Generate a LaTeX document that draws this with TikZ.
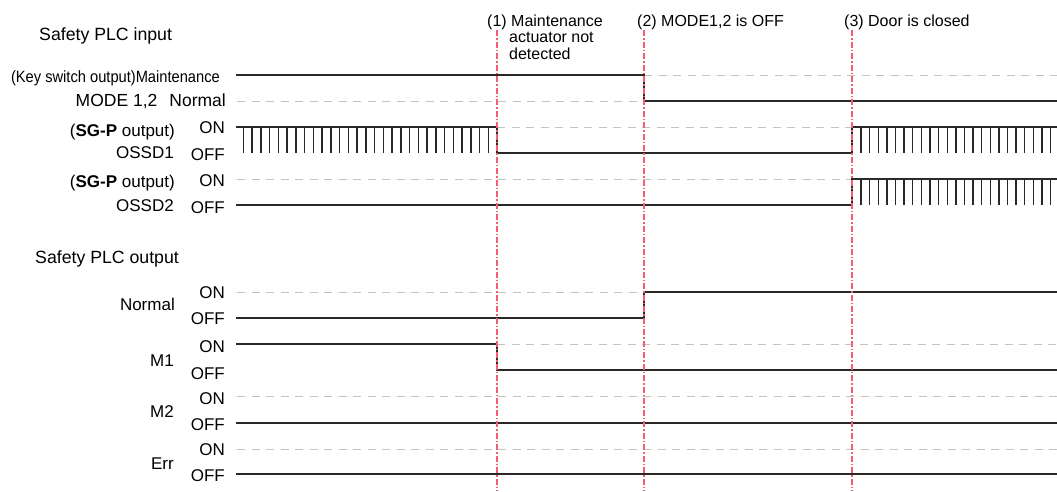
\documentclass[tikz,border=0pt]{standalone}
\usepackage{fontspec}
\setmainfont{Liberation Sans}
\definecolor{evtred}{RGB}{242,95,115}
\definecolor{sigcol}{RGB}{40,40,40}
\definecolor{refgray}{RGB}{195,195,195}
\begin{document}
\begin{tikzpicture}[x=1pt,y=-1pt,
  sig/.style={line width=1.5pt, draw=sigcol},
  pulse/.style={line width=1.4pt, draw=sigcol},
  ref/.style={line width=1pt, draw=refgray, dash pattern=on 8pt off 6.5pt},
  evt/.style={line width=1.3pt, draw=evtred, dash pattern=on 6pt off 2pt on 1.5pt off 2pt},
  lbl/.style={inner sep=0pt, anchor=base east, font=\fontsize{17}{20}\selectfont},
  head/.style={inner sep=0pt, anchor=base west, font=\fontsize{17.7}{21}\selectfont},
  toplbl/.style={inner sep=0pt, anchor=base west, font=\fontsize{16}{19}\selectfont}]
\useasboundingbox (0,0) rectangle (1057,491);

% headings
\node[head] (hin) at (39,40) {Safety PLC input};
\node[head] (hout) at (35,263) {Safety PLC output};

% event labels
\node[toplbl] (e1a) at (487,26) {(1) Maintenance};
\node[toplbl] (e1b) at (509,42.7) {actuator not};
\node[toplbl] (e1c) at (509,59.3) {detected};
\node[toplbl] (e2) at (637,26) {(2) MODE1,2 is OFF};
\node[toplbl] (e3) at (844,26) {(3) Door is closed};

% input labels
\node[lbl, font=\fontsize{16.3}{19}\selectfont] (keysw) at (220,82) {\scalebox{0.9}[1]{(Key switch output)Maintenance}};
\node[lbl, font=\fontsize{17.5}{20}\selectfont] (mode) at (226,106) {MODE 1,2\hspace{12pt}Normal};
\node[lbl] (sg1) at (175,136.7) {(\textbf{SG-P} output)};
\node[lbl] (ossd1) at (174,158.3) {OSSD1};
\node[lbl] (on1) at (225,133.3) {ON};
\node[lbl] (off1) at (225,160) {OFF};
\node[lbl] (sg2) at (175,187) {(\textbf{SG-P} output)};
\node[lbl] (ossd2) at (174,211.7) {OSSD2};
\node[lbl] (on2) at (225,186.7) {ON};
\node[lbl] (off2) at (225,213) {OFF};

% output labels
\node[lbl] (nrm) at (175,310) {Normal};
\node[lbl] (on3) at (225,298) {ON};
\node[lbl] (off3) at (225,324) {OFF};
\node[lbl] (m1) at (174,366) {M1};
\node[lbl] (on4) at (225,352) {ON};
\node[lbl] (off4) at (225,379) {OFF};
\node[lbl] (m2) at (174,417.3) {M2};
\node[lbl] (on5) at (225,404) {ON};
\node[lbl] (off5) at (225,430.5) {OFF};
\node[lbl] (err) at (174,469.3) {Err};
\node[lbl] (on6) at (225,455) {ON};
\node[lbl] (off6) at (225,481.5) {OFF};

% reference (dashed) levels
\draw[ref] (237,101) -- (644,101);
\draw[ref] (644,75) -- (1057,75);
\draw[ref] (497,127) -- (852,127);
\draw[ref] (237,179) -- (852,179);
\draw[ref] (237,292) -- (644,292);
\draw[ref] (497,344) -- (1057,344);
\draw[ref] (237,396) -- (1057,396);
\draw[ref] (237,449) -- (1057,449);

% signals
\draw[sig] (236,75) -- (644,75) -- (644,101) -- (1057,101);
\draw[sig] (236,127) -- (497,127) -- (497,153) -- (852,153) -- (852,127) -- (1057,127);
\draw[sig] (236,205) -- (852,205) -- (852,179) -- (1057,179);
\draw[sig] (236,318) -- (644,318) -- (644,292) -- (1057,292);
\draw[sig] (236,344) -- (497,344) -- (497,370) -- (1057,370);
\draw[sig] (236,423) -- (1057,423);
\draw[sig] (236,474) -- (1057,474);

% test pulses
\foreach \k in {0,...,28} \draw[pulse] ({243.3+8.75*\k},127) -- ++(0,26);
\foreach \k in {0,...,22} {
  \draw[pulse] ({861+8.62*\k},127) -- ++(0,26);
  \draw[pulse] ({861+8.62*\k},179) -- ++(0,26);
}

% event markers
\coordinate (t1top) at (497,30); \coordinate (t1bot) at (497,491);
\coordinate (t2top) at (644,30); \coordinate (t2bot) at (644,491);
\coordinate (t3top) at (852,30); \coordinate (t3bot) at (852,491);
\draw[evt] (t1top) -- (t1bot);
\draw[evt] (t2top) -- (t2bot);
\draw[evt] (t3top) -- (t3bot);
\end{tikzpicture}
\end{document}
